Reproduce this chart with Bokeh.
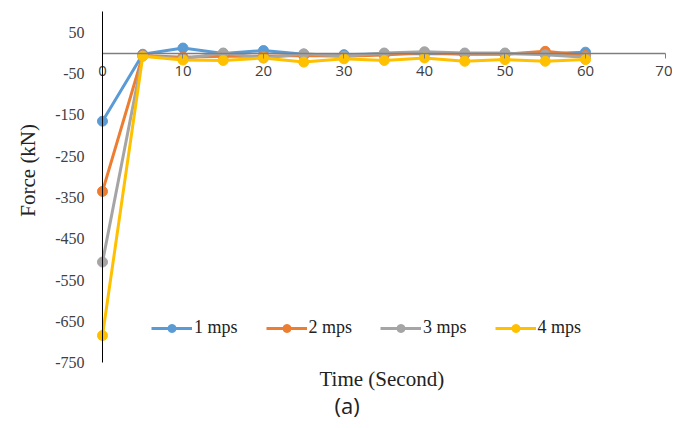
import math
from bokeh.plotting import figure
from bokeh.models import Range1d, Label, Legend, LegendItem, FixedTicker
from bokeh.embed import file_html
from bokeh.resources import INLINE

# ---- data ----
time_s = [0, 5, 10, 15, 20, 25, 30, 35, 40, 45, 50, 55, 60]
force_1mps = [-165, -3, 12, -1, 6, -3, -4, -2, -1, -2, -2, -2, 2]
force_2mps = [-335, -6, -10, -8, -8, -6, -8, -5, 1, -3, -3, 4, -6]
force_3mps = [-506, -7, -14, 0, -12, -2, -8, 0, 3, 0, 0, -4, -10]
force_4mps = [-684, -8, -17, -18, -12, -22, -14, -18, -12, -20, -16, -20, -16]
series_names = ["1 mps", "2 mps", "3 mps", "4 mps"]
series_values = [force_1mps, force_2mps, force_3mps, force_4mps]
series_colors = ["#5B9BD5", "#ED7D31", "#A5A5A5", "#FFC000"]
x_ticks = [0, 10, 20, 30, 40, 50, 60, 70]
y_ticks = [50, -50, -150, -250, -350, -450, -550, -650, -750]
x_title = "Time (Second)"
y_title = "Force (kN)"
caption = "(a)"

# frame covers the whole canvas so that the texts drawn outside the axes stay visible
p = figure(width=672, height=420, output_backend="svg", toolbar_location=None,
           x_range=Range1d(-12.67, 70.81), y_range=Range1d(-889.6, 127.1),
           min_border_left=0, min_border_right=0, min_border_top=0,
           min_border_bottom=0)
p.outline_line_color = None
p.xgrid.visible = False
p.ygrid.visible = False
p.background_fill_color = "white"
p.border_fill_color = "white"

# axes
xa = p.xaxis[0]
xa.fixed_location = 0
xa.bounds = (0, 70)
xa.ticker = FixedTicker(ticks=x_ticks)
xa.major_label_overrides = {t: str(t) for t in x_ticks}
xa.axis_line_color = "#7F7F7F"
xa.axis_line_width = 1.5
xa.major_tick_line_color = "#7F7F7F"
xa.major_tick_out = 5
xa.major_tick_in = 0
xa.minor_tick_out = 0
xa.minor_tick_in = 0
xa.major_label_text_font = "Open Sans"
xa.major_label_text_font_size = "15px"
xa.major_label_text_color = "#404040"
xa.major_label_standoff = 8

ya = p.yaxis[0]
ya.fixed_location = 0
ya.bounds = (-750, 100)
ya.ticker = FixedTicker(ticks=y_ticks)
ya.major_label_overrides = {t: str(t) for t in y_ticks}
ya.axis_line_color = "black"
ya.axis_line_width = 1
ya.major_tick_out = 0
ya.major_tick_in = 0
ya.minor_tick_out = 0
ya.minor_tick_in = 0
ya.major_label_text_font = "Liberation Serif"
ya.major_label_text_font_size = "16px"
ya.major_label_text_color = "#404040"
ya.major_label_standoff = 18

items = []
for name, vals, col in zip(series_names, series_values, series_colors):
    lr = p.line(time_s, vals, line_color=col, line_width=3)
    sr = p.scatter(time_s, vals, size=10, fill_color=col, line_color=col)
    items.append(LegendItem(label=name, renderers=[lr, sr]))

legend = Legend(items=items, orientation="horizontal", location=(151, 82),
                background_fill_alpha=0, border_line_color=None,
                padding=0, margin=0, spacing=28, glyph_width=41, glyph_height=20,
                label_standoff=2, label_text_font="Liberation Serif",
                label_text_font_size="18px", label_text_color="#222222")
p.add_layout(legend)

p.add_layout(Label(x=-9.2, y=-284, text=y_title, angle=math.pi / 2,
                   text_align="center", text_baseline="middle",
                   text_font="Liberation Serif", text_font_size="21px",
                   text_color="#222222"))
p.add_layout(Label(x=34.7, y=-788, text=x_title,
                   text_align="center", text_baseline="middle",
                   text_font="Liberation Serif", text_font_size="21px",
                   text_color="#222222"))
p.add_layout(Label(x=30.4, y=-853, text=caption,
                   text_align="center", text_baseline="middle",
                   text_font="Open Sans", text_font_size="22px",
                   text_color="#222222"))

open("out.html", "w").write(file_html(p, INLINE))
